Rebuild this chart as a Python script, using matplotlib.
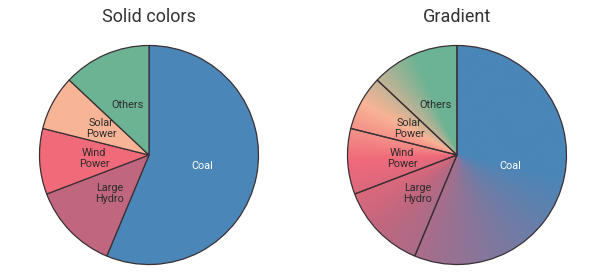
import numpy as np
import matplotlib
matplotlib.use("Agg")
import matplotlib.pyplot as plt
from matplotlib.patches import Circle
from matplotlib.colors import to_rgb

categories = ["Coal", "Large\nHydro", "Wind\nPower", "Solar\nPower", "Others"]
values = [56.3, 12.9, 9.7, 8.1, 13.0]
colors = ["#4a86b8", "#c0677f", "#f06a7a", "#f8b496", "#6cb394"]
label_colors = ["white", "#2b2b2b", "#2b2b2b", "#2b2b2b", "#2b2b2b"]
titles = ["Solid colors", "Gradient"]

plt.rcParams['font.family'] = ['Roboto', 'DejaVu Sans']

W, H = 602, 278
fig = plt.figure(figsize=(W / 100, H / 100), dpi=100)
fig.patch.set_facecolor("white")

R = 109.5
centers = [(149, 155), (457, 155)]
edge = "#3a3035"


def make_ax(cx, cy):
    ax = fig.add_axes([(cx - R) / W, (H - cy - R) / H, 2 * R / W, 2 * R / H])
    ax.axis("off")
    return ax


for i, (cx, cy) in enumerate(centers):
    ax = make_ax(cx, cy)
    gradient = i == 1
    wedges, texts = ax.pie(
        values, labels=categories, colors=colors, startangle=90,
        counterclock=False, radius=1, labeldistance=0.5,
        wedgeprops=dict(edgecolor=edge, linewidth=0.9),
        textprops=dict(fontsize=7.8, ha="center", va="center"),
    )
    for t, c in zip(texts, label_colors):
        t.set_color(c)
        t.set_linespacing(1.15)
    if gradient:
        for w in wedges:
            w.set_facecolor("none")
            w.set_zorder(3)
        for t in texts:
            t.set_zorder(4)
        vals = np.array(values, dtype=float)
        cum = np.cumsum(vals) / vals.sum() * 360
        starts = np.concatenate([[0], cum[:-1]])
        mids = (starts + cum) / 2
        stops = np.concatenate([[0], mids, [360]])
        rgb = np.array([to_rgb(c) for c in colors])
        stop_cols = np.vstack([rgb[0], rgb, rgb[-1]])
        n = 600
        xs = np.linspace(-1, 1, n)
        X, Y = np.meshgrid(xs, xs)
        theta = np.degrees(np.arctan2(X, Y)) % 360
        img = np.zeros((n, n, 3))
        for ch in range(3):
            img[..., ch] = np.interp(theta, stops, stop_cols[:, ch])
        im = ax.imshow(img, extent=[-1, 1, -1, 1], origin="lower",
                       interpolation="bilinear", zorder=1)
        clip = Circle((0, 0), 1, transform=ax.transData)
        im.set_clip_path(clip)
    ax.set_aspect("equal")
    ax.set_xlim(-1, 1)
    ax.set_ylim(-1, 1)
    fig.text(cx / W, 1 - 17 / H, titles[i], ha="center", va="center",
             fontsize=13, color="#333333")

fig.savefig("out.png", dpi=100)
